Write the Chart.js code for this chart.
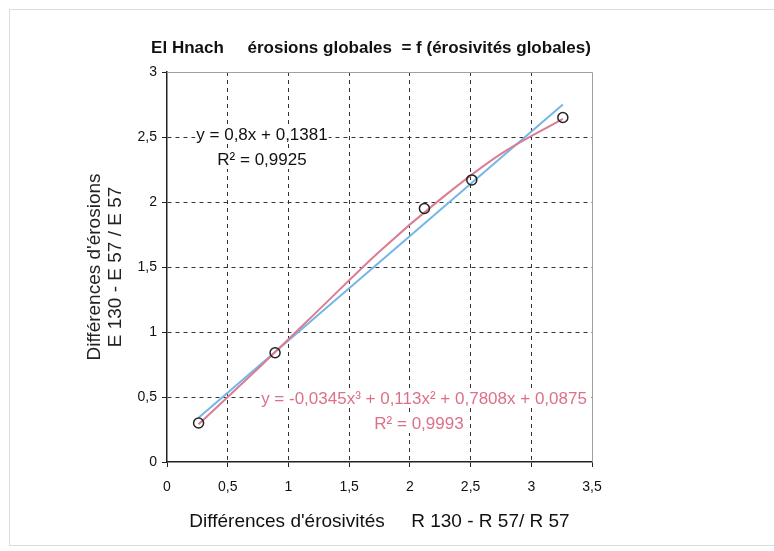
<!DOCTYPE html>
<html>
<head>
<meta charset="utf-8">
<script src="https://cdn.jsdelivr.net/npm/chart.js@4.4.1/dist/chart.umd.min.js"></script>
<style>
  html, body { margin: 0; padding: 0; background: #fff; }
  #wrap { width: 774px; height: 551px; }
</style>
</head>
<body>
<div id="wrap"><canvas id="myChart" width="774" height="551"></canvas></div>
<script>
// observed points (differences of erosivity vs differences of erosion)
const pointsX = [0.26, 0.89, 2.12, 2.51, 3.26];
const pointsY = [0.30, 0.84, 1.95, 2.17, 2.65];

// linear trend line
const linearX = [0.26, 3.26];
const linearY = [0.34, 2.75];

// polynomial trend line
const polyX = [0.26, 0.75, 1.25, 1.75, 2.25, 2.75, 3.26];
const polyY = [0.29, 0.72, 1.17, 1.62, 2.02, 2.37, 2.64];

const xTickLabels = ['0', '0,5', '1', '1,5', '2', '2,5', '3', '3,5'];
const yTickLabels = ['0', '0,5', '1', '1,5', '2', '2,5', '3'];

const titleText = 'El Hnach     érosions globales  = f (érosivités globales)';
const linearEq = 'y = 0,8x + 0,1381';
const linearR2 = 'R² = 0,9925';
const polyEq = 'y = -0,0345x³ + 0,113x² + 0,7808x + 0,0875';
const polyR2 = 'R² = 0,9993';

const FONT = 'Liberation Sans, Arial, sans-serif';

const toXY = (xs, ys) => xs.map((x, i) => ({ x: x, y: ys[i] }));

// background, frame, title and equation labels
const decorations = {
    id: 'decorations',
    beforeDraw(chart) {
        const c = chart.ctx;
        c.save();
        c.fillStyle = '#fff';
        c.fillRect(0, 0, chart.width, chart.height);
        c.strokeStyle = '#dcdcdc';
        c.lineWidth = 1;
        c.strokeRect(9.5, 9.5, 780, 536);
        c.restore();
    },
    beforeDatasetsDraw(chart) {
        const c = chart.ctx;
        const a = chart.chartArea;
        c.save();
        // top and right frame of the plot
        c.strokeStyle = '#a0a0a0';
        c.lineWidth = 1;
        c.beginPath();
        c.moveTo(a.left, a.top + 0.5);
        c.lineTo(a.right + 0.5, a.top + 0.5);
        c.lineTo(a.right + 0.5, a.bottom);
        c.stroke();

        const label = (text, x, y, color) => {
            c.font = '17px ' + FONT;
            const w = c.measureText(text).width;
            c.fillStyle = '#fff';
            c.fillRect(x - w / 2 - 1, y - 9, w + 2, 18);
            c.fillStyle = color;
            c.textAlign = 'center';
            c.textBaseline = 'middle';
            c.fillText(text, x, y);
        };
        label(linearEq, 262, 135, '#111');
        label(linearR2, 262, 160, '#111');
        label(polyEq, 424, 399, '#dd7088');
        label(polyR2, 419, 424, '#dd7088');
        c.restore();
    },
    afterDraw(chart) {
        const c = chart.ctx;
        c.save();
        c.font = 'bold 17px ' + FONT;
        c.fillStyle = '#111';
        c.textAlign = 'center';
        c.textBaseline = 'middle';
        c.fillText(titleText, 371, 48);
        c.restore();
    }
};

const ctx = document.getElementById('myChart').getContext('2d');
const chart = new Chart(ctx, {
    type: 'scatter',
    data: {
        datasets: [{
            label: 'points',
            data: toXY(pointsX, pointsY),
            showLine: false,
            pointStyle: 'circle',
            pointRadius: 5,
            pointBorderWidth: 1.5,
            pointBorderColor: '#222',
            pointBackgroundColor: 'rgba(0,0,0,0)',
            order: 0
        }, {
            label: 'linear',
            data: toXY(linearX, linearY),
            showLine: true,
            borderColor: '#74b6e8',
            borderWidth: 2,
            pointRadius: 0,
            order: 2
        }, {
            label: 'poly',
            data: toXY(polyX, polyY),
            showLine: true,
            borderColor: '#dc7c92',
            borderWidth: 2,
            pointRadius: 0,
            tension: 0.4,
            cubicInterpolationMode: 'monotone',
            order: 1
        }]
    },
    options: {
        responsive: false,
        animation: false,
        layout: { padding: { left: 0, right: 182, top: 72, bottom: 0 } },
        plugins: {
            legend: { display: false },
            tooltip: { enabled: false }
        },
        scales: {
            x: {
                type: 'linear',
                min: 0,
                max: 3.5,
                afterFit: (scale) => { scale.height = 89; },
                ticks: {
                    stepSize: 0.5,
                    padding: 12,
                    color: '#111',
                    font: { family: FONT, size: 14 },
                    callback: (v, i) => xTickLabels[i]
                },
                grid: {
                    color: (c) => (c.index === 0 || c.index === xTickLabels.length - 1) ? 'rgba(0,0,0,0)' : '#333',
                    tickColor: '#222',
                    tickLength: 5,
                    lineWidth: 1
                },
                border: { display: true, color: '#222', width: 1.5, dash: [4, 4] },
                title: {
                    display: true,
                    text: 'Différences d\'érosivités     R 130 - R 57/ R 57',
                    color: '#111',
                    font: { family: FONT, size: 19 },
                    padding: { top: 0, bottom: 18 }
                }
            },
            y: {
                type: 'linear',
                min: 0,
                max: 3,
                afterFit: (scale) => { scale.width = 167; },
                ticks: {
                    stepSize: 0.5,
                    padding: 5,
                    color: '#111',
                    font: { family: FONT, size: 14 },
                    callback: (v, i) => yTickLabels[i]
                },
                grid: {
                    color: (c) => (c.index === 0 || c.index === yTickLabels.length - 1) ? 'rgba(0,0,0,0)' : '#333',
                    tickColor: '#222',
                    tickLength: 5,
                    lineWidth: 1
                },
                border: { display: true, color: '#222', width: 1.5, dash: [4, 4] },
                title: {
                    display: true,
                    text: ['Différences d\'érosions', 'E 130 - E 57 / E 57'],
                    color: '#222',
                    font: { family: FONT, size: 19, lineHeight: 1.07 },
                    padding: { top: 85, bottom: 0 }
                }
            }
        }
    },
    plugins: [decorations]
});
</script>
</body>
</html>
